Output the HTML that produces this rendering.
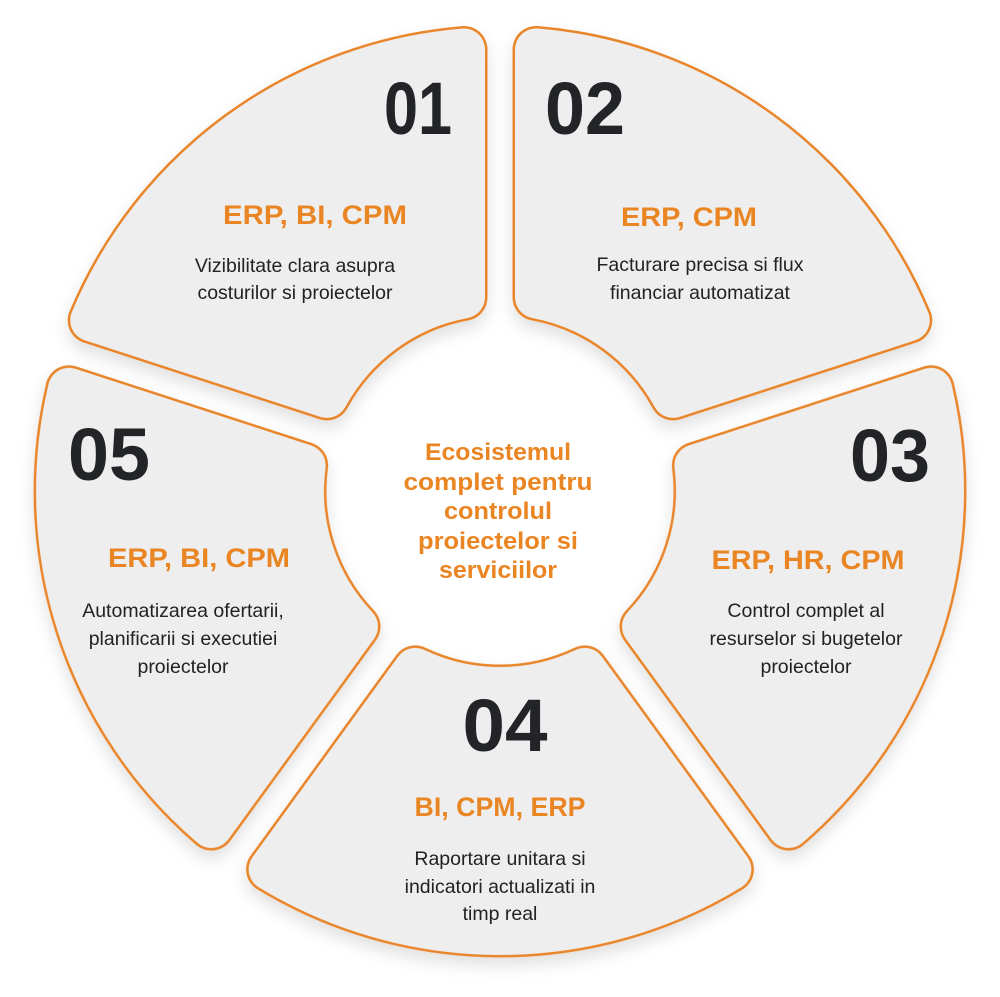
<!DOCTYPE html>
<html><head><meta charset="utf-8"><style>
html,body{margin:0;padding:0;background:#fff;width:1000px;height:997px;overflow:hidden;}
svg{display:block;}
.n{font-family:"Liberation Sans",sans-serif;font-weight:bold;font-size:74px;fill:#222428;}
.l{font-family:"Liberation Sans",sans-serif;font-weight:bold;font-size:27px;fill:#ea8523;}
.d{font-family:"Liberation Sans",sans-serif;font-size:19.5px;fill:#222;}
.c{font-family:"Liberation Sans",sans-serif;font-weight:bold;font-size:24px;fill:#ea8523;}
</style></head><body>
<svg width="1000" height="997" viewBox="0 0 1000 997" xmlns="http://www.w3.org/2000/svg" style="overflow:hidden">
<defs>
<filter id="sh" filterUnits="userSpaceOnUse" x="0" y="0" width="1000" height="997">
<feDropShadow dx="0" dy="8" stdDeviation="8" flood-color="#000" flood-opacity="0.12"/>
</filter>
<path id="seg" d="M464,49.5 A443 443 0 0 0 91.2,320.3 L326.9,396.9 A197 197 0 0 1 464,297.3 Z"/>
<g id="piece">
<use href="#seg" fill="#e9852a" stroke="#e9852a" stroke-width="47" stroke-linejoin="round"/>
<use href="#seg" fill="#eeeeee" stroke="#eeeeee" stroke-width="42" stroke-linejoin="round"/>
</g>
</defs>
<g filter="url(#sh)">
<use href="#piece"/>
<use href="#piece" transform="rotate(72 500 491)"/>
<use href="#piece" transform="rotate(144 500 491)"/>
<use href="#piece" transform="rotate(216 500 491)"/>
<use href="#piece" transform="rotate(288 500 491)"/>
</g>

<g text-anchor="middle">
<text class="n" x="418" y="134" textLength="68" lengthAdjust="spacingAndGlyphs">01</text>
<text class="l" x="315" y="224" textLength="184" lengthAdjust="spacingAndGlyphs">ERP, BI, CPM</text>
<text class="d" x="295" y="272">Vizibilitate clara asupra</text>
<text class="d" x="295" y="299">costurilor si proiectelor</text>

<text class="n" x="585" y="134" textLength="80" lengthAdjust="spacingAndGlyphs">02</text>
<text class="l" x="689" y="226" textLength="136" lengthAdjust="spacingAndGlyphs">ERP, CPM</text>
<text class="d" x="700" y="271">Facturare precisa si flux</text>
<text class="d" x="700" y="299">financiar automatizat</text>

<text class="n" x="890" y="481" textLength="80" lengthAdjust="spacingAndGlyphs">03</text>
<text class="l" x="808" y="569" textLength="193" lengthAdjust="spacingAndGlyphs">ERP, HR, CPM</text>
<text class="d" x="806" y="617">Control complet al</text>
<text class="d" x="806" y="645">resurselor si bugetelor</text>
<text class="d" x="806" y="673">proiectelor</text>

<text class="n" x="505" y="751" textLength="85" lengthAdjust="spacingAndGlyphs">04</text>
<text class="l" x="500" y="816" textLength="171" lengthAdjust="spacingAndGlyphs">BI, CPM, ERP</text>
<text class="d" x="500" y="865">Raportare unitara si</text>
<text class="d" x="500" y="893">indicatori actualizati in</text>
<text class="d" x="500" y="920">timp real</text>

<text class="n" x="109" y="480" textLength="82" lengthAdjust="spacingAndGlyphs">05</text>
<text class="l" x="199" y="567" textLength="182" lengthAdjust="spacingAndGlyphs">ERP, BI, CPM</text>
<text class="d" x="183" y="617">Automatizarea ofertarii,</text>
<text class="d" x="183" y="645">planificarii si executiei</text>
<text class="d" x="183" y="673">proiectelor</text>

<text class="c" x="498" y="460" textLength="146" lengthAdjust="spacingAndGlyphs">Ecosistemul</text>
<text class="c" x="498" y="490" textLength="189" lengthAdjust="spacingAndGlyphs">complet pentru</text>
<text class="c" x="498" y="519" textLength="108" lengthAdjust="spacingAndGlyphs">controlul</text>
<text class="c" x="498" y="549" textLength="160" lengthAdjust="spacingAndGlyphs">proiectelor si</text>
<text class="c" x="498" y="578" textLength="118" lengthAdjust="spacingAndGlyphs">serviciilor</text>
</g>
</svg>
</body></html>
